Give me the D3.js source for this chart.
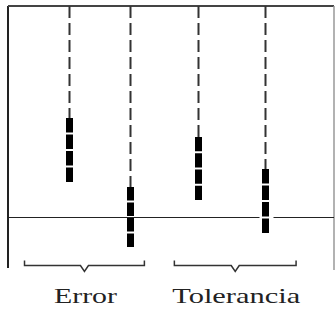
<!DOCTYPE html>
<html>
<head>
<meta charset="utf-8">
<script src="https://cdn.jsdelivr.net/npm/d3@7/dist/d3.min.js"></script>
<style>
  html, body { margin: 0; padding: 0; background: #fff; }
  svg { display: block; }
  text.group { font-family: "Times New Roman", "Liberation Serif", Times, serif; }
</style>
</head>
<body>
<svg id="chart"></svg>
<script>
// 値（目盛りなしの概念図なので単位は任意）
const markers    = ["E1", "E2", "T1", "T2"];
const markerX    = [1.0, 2.0, 3.11, 4.21];
const markerHigh = [1.98, 0.6, 1.6, 0.96];
const markerLow  = [0.7, -0.6, 0.34, -0.32];
const markerCut  = [false, false, false, true];   // 基準線を切る所
const groups     = ["Error", "Tolerancia"];
const groupFrom  = [0.27, 2.72];
const groupTo    = [2.23, 4.71];
const segments   = 4;

const W = 335, H = 310;
const svg = d3.select("#chart").attr("width", W).attr("height", H);

let x = d3.scaleLinear().domain([0, 5.33]).range([8, 334]);
let y = d3.scaleLinear().domain([-1.02, 4.22]).range([268, 6]);

let data = markers.map((m, i) => {
    return { id: m, x: markerX[i], hi: markerHigh[i], lo: markerLow[i], cut: markerCut[i] };
});

// 枠
svg.append("line")
    .attr("x1", x(0)).attr("x2", x(0))
    .attr("y1", y(4.22)).attr("y2", y(-1.02))
    .attr("stroke", "#222").attr("stroke-width", 2);
svg.append("line")
    .attr("x1", x(0)).attr("x2", x(5.33))
    .attr("y1", y(4.22)).attr("y2", y(4.22))
    .attr("stroke", "#444").attr("stroke-width", 2);
svg.append("line")
    .attr("x1", x(5.33)).attr("x2", x(5.33))
    .attr("y1", y(4.22)).attr("y2", y(-1.06))
    .attr("stroke", "#999").attr("stroke-width", 1.5);

// 基準線
svg.append("line")
    .attr("x1", x(0)).attr("x2", x(5.33))
    .attr("y1", Math.round(y(0)) + 0.5).attr("y2", Math.round(y(0)) + 0.5)
    .attr("stroke", "#222").attr("stroke-width", 1.2);

// 破線
svg.selectAll("line.guide")
    .data(data, (d) => { return d.id; })
    .enter()
    .append("line")
    .attr("class", "guide")
    .attr("x1", (d) => { return Math.round(x(d.x)) + 0.5; })
    .attr("x2", (d) => { return Math.round(x(d.x)) + 0.5; })
    .attr("y1", y(4.22))
    .attr("y2", (d) => { return y(d.hi); })
    .attr("stroke", "#333")
    .attr("stroke-width", 2)
    .attr("stroke-dasharray", "12,5");

// 基準線の切れ目
svg.selectAll("rect.cut")
    .data(data.filter((d) => { return d.cut; }), (d) => { return d.id; })
    .enter()
    .append("rect")
    .attr("class", "cut")
    .attr("x", (d) => { return x(d.x) - 6; })
    .attr("width", 14)
    .attr("y", y(0) - 3)
    .attr("height", 6)
    .attr("fill", "#fff");

// ブロック
let blocks = [];
data.forEach((d) => {
    let top = y(d.hi), bottom = y(d.lo);
    let gap = 2;
    let h = (bottom - top - gap * (segments - 1)) / segments;
    for (let k = 0; k < segments; k++)
        blocks.push({ id: d.id + k, x: d.x, y: top + k * (h + gap), h: h });
});

svg.selectAll("rect.block")
    .data(blocks, (d) => { return d.id; })
    .enter()
    .append("rect")
    .attr("class", "block")
    .attr("x", (d) => { return Math.round(x(d.x)) - 3; })
    .attr("width", 7)
    .attr("y", (d) => { return d.y; })
    .attr("height", (d) => { return d.h; })
    .attr("fill", "#000");

// 括弧と見出し
let gdata = groups.map((g, i) => { return { name: g, from: groupFrom[i], to: groupTo[i] }; });
let by = 265.5;

svg.selectAll("path.brace")
    .data(gdata, (d) => { return d.name; })
    .enter()
    .append("path")
    .attr("class", "brace")
    .attr("d", (d) => {
        let x0 = x(d.from), x1 = x(d.to), xm = (x0 + x1) / 2;
        return "M" + x0 + "," + (by - 5) + "V" + by + "H" + (xm - 4) +
               "L" + xm + "," + (by + 6) + "L" + (xm + 4) + "," + by +
               "H" + x1 + "V" + (by - 5);
    })
    .attr("fill", "none")
    .attr("stroke", "#333")
    .attr("stroke-width", 1.5);

svg.selectAll("text.group")
    .data(gdata, (d) => { return d.name; })
    .enter()
    .append("text")
    .attr("class", "group")
    .attr("x", (d) => { return (x(d.from) + x(d.to)) / 2 + 1; })
    .attr("y", 303)
    .attr("text-anchor", "middle")
    .attr("font-size", 21)
    .attr("fill", "#222")
    .attr("textLength", (d) => { return d.name === "Error" ? 63 : 128; })
    .attr("lengthAdjust", "spacingAndGlyphs")
    .text((d) => { return d.name; });
</script>
</body>
</html>
